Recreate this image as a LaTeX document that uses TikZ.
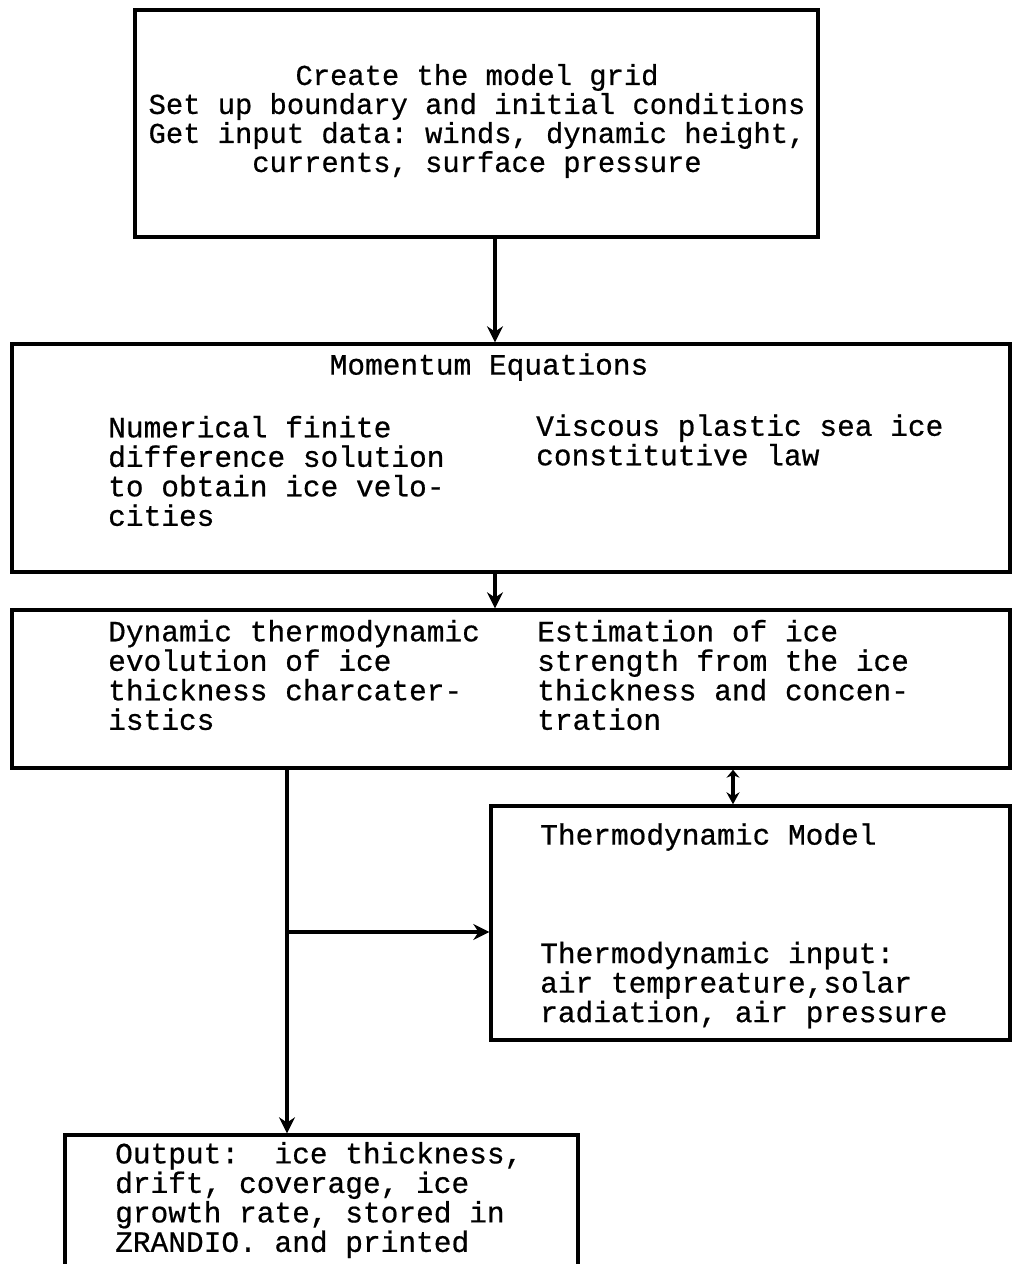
\documentclass[tikz,border=0pt]{standalone}
\usepackage{fontspec}
\setmonofont[FakeBold=0.6]{Liberation Mono}
\usetikzlibrary{arrows.meta,calc}

\tikzset{
  box/.style={draw, line width=3.4pt, rectangle, inner sep=0pt},
  txt/.style={font=\ttfamily\fontsize{29.5}{29.5}\selectfont, inner sep=0pt, align=left, anchor=west},
  ctxt/.style={font=\ttfamily\fontsize{28.8}{29}\selectfont, inner sep=0pt, align=center},
  conn/.style={line width=3.2pt},
  arr/.style={conn, -{Stealth[length=16pt,width=16pt]}},
  darr/.style={conn, {Stealth[length=12pt,width=13pt]}-{Stealth[length=8pt,width=13pt]}}
}

\begin{document}
\begin{tikzpicture}[x=1pt, y=-1pt]
  \clip (0,0) rectangle (1015,1264);
  \fill[white] (0,0) rectangle (1015,1264);

  % boxes
  \node[box, minimum width=683pt, minimum height=227pt] (b1) at (476.5,123.5) {};
  \node[box, minimum width=998pt, minimum height=228pt] (b2) at (511,458) {};
  \node[box, minimum width=998pt, minimum height=158pt] (b3) at (511,689) {};
  \node[box, minimum width=519pt, minimum height=234pt] (b4) at (750.5,923) {};
  \node[box, minimum width=513pt, minimum height=170pt] (b5) at (321.5,1220) {};

  % texts
  \node[ctxt] (t1) at (477,121) {Create the model grid\\Set up boundary and initial conditions\\Get input data: winds, dynamic height,\\currents, surface pressure};
  \node[txt, anchor=center] (t2) at (489,367) {Momentum Equations};
  \node[txt] (t3) at (108,471) {Numerical finite\\difference solution\\to obtain ice velo-\\cities};
  \node[txt] (t4) at (536,440) {Viscous plastic sea ice\\constitutive law};
  \node[txt] (t5) at (108,675) {Dynamic thermodynamic\\evolution of ice\\thickness charcater-\\istics};
  \node[txt] (t6) at (537,675) {Estimation of ice\\strength from the ice\\thickness and concen-\\tration};
  \node[txt] (t7) at (540,837) {Thermodynamic Model};
  \node[txt] (t8) at (540,985) {Thermodynamic input:\\air tempreature,solar\\radiation, air pressure};
  \node[txt] (t9) at (115,1200) {Output:~ ice thickness,\\drift, coverage, ice\\growth rate, stored in\\ZRANDIO. and printed};

  % connector columns
  \coordinate (cm) at (495,0);
  \coordinate (ct) at (733,0);
  \coordinate (co) at (287,0);
  \coordinate (ch) at (287,932);

  % connectors
  \draw[arr] (b1.south -| cm) -- (b2.north -| cm);
  \draw[arr] (b2.south -| cm) -- (b3.north -| cm);
  \draw[darr] (b4.north -| ct) -- (b3.south -| ct);
  \draw[arr] (b3.south -| co) -- (b5.north -| co);
  \draw[arr] (ch) -- (ch -| b4.west);
\end{tikzpicture}
\end{document}
